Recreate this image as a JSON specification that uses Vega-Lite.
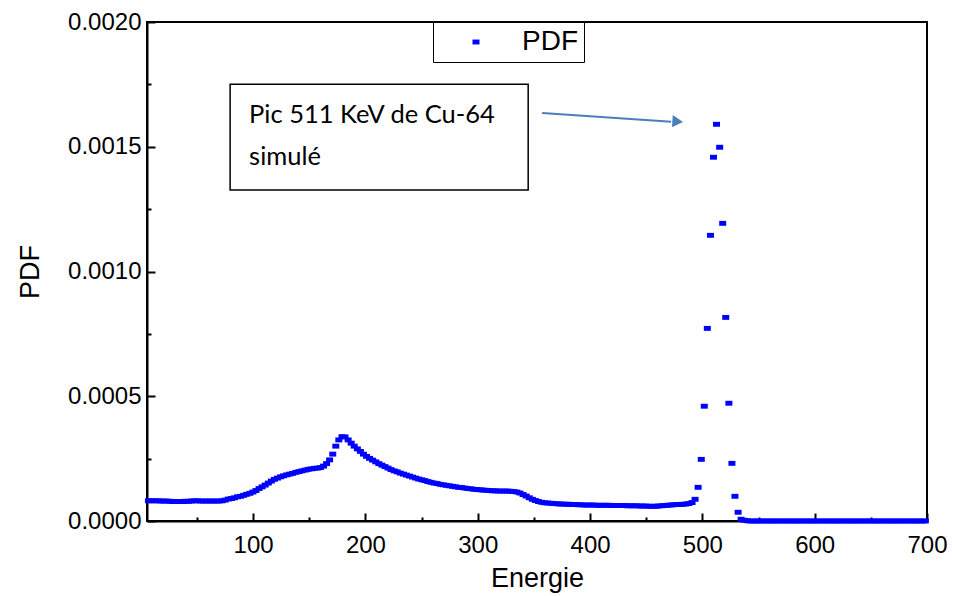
{
  "$schema": "https://vega.github.io/schema/vega-lite/v6.json",
  "width": 780,
  "height": 499,
  "autosize": {"type": "none"},
  "padding": {"left": 147, "top": 22, "right": 27, "bottom": 75},
  "background": "white",
  "config": {"view": {"stroke": "black", "strokeWidth": 2}, "font": "Liberation Sans"},
  "layer": [
    {
      "data": {"values": [
        {"E":6.8,"P":0.000081},{"E":9.6,"P":0.000081},{"E":12.3,"P":0.000081},{"E":15.0,"P":0.000081},{"E":17.8,"P":0.000080},
        {"E":20.5,"P":0.000080},{"E":23.2,"P":0.000080},{"E":26.0,"P":0.000079},{"E":28.7,"P":0.000078},{"E":31.4,"P":0.000078},
        {"E":34.2,"P":0.000078},{"E":36.9,"P":0.000078},{"E":39.6,"P":0.000079},{"E":42.4,"P":0.000079},{"E":45.1,"P":0.000080},
        {"E":47.8,"P":0.000081},{"E":50.6,"P":0.000081},{"E":53.3,"P":0.000080},{"E":56.0,"P":0.000080},{"E":58.8,"P":0.000080},
        {"E":61.5,"P":0.000080},{"E":64.2,"P":0.000080},{"E":67.0,"P":0.000080},{"E":69.7,"P":0.000080},{"E":72.5,"P":0.000081},
        {"E":75.2,"P":0.000084},{"E":77.9,"P":0.000088},{"E":80.7,"P":0.000090},{"E":83.4,"P":0.000093},{"E":86.1,"P":0.000097},
        {"E":88.9,"P":0.000099},{"E":91.6,"P":0.000103},{"E":94.3,"P":0.000107},{"E":97.1,"P":0.000111},{"E":99.8,"P":0.000116},
        {"E":102.5,"P":0.000122},{"E":105.3,"P":0.000130},{"E":108.0,"P":0.000137},{"E":110.7,"P":0.000144},{"E":113.5,"P":0.000152},
        {"E":116.2,"P":0.000160},{"E":118.9,"P":0.000167},{"E":121.7,"P":0.000172},{"E":124.4,"P":0.000177},{"E":127.1,"P":0.000181},
        {"E":129.9,"P":0.000185},{"E":132.6,"P":0.000188},{"E":135.3,"P":0.000191},{"E":138.1,"P":0.000195},{"E":140.8,"P":0.000198},
        {"E":143.5,"P":0.000201},{"E":146.3,"P":0.000204},{"E":149.0,"P":0.000207},{"E":151.7,"P":0.000209},{"E":154.5,"P":0.000211},
        {"E":157.2,"P":0.000212},{"E":159.9,"P":0.000214},{"E":162.7,"P":0.000220},{"E":165.4,"P":0.000230},{"E":168.1,"P":0.000245},
        {"E":170.9,"P":0.000268},{"E":173.6,"P":0.000300},{"E":176.3,"P":0.000325},{"E":179.1,"P":0.000338},{"E":181.8,"P":0.000337},
        {"E":184.6,"P":0.000325},{"E":187.3,"P":0.000312},{"E":190.0,"P":0.000300},{"E":192.8,"P":0.000289},{"E":195.5,"P":0.000279},
        {"E":198.2,"P":0.000268},{"E":201.0,"P":0.000259},{"E":203.7,"P":0.000251},{"E":206.4,"P":0.000244},{"E":209.2,"P":0.000237},
        {"E":211.9,"P":0.000230},{"E":214.6,"P":0.000224},{"E":217.4,"P":0.000218},{"E":220.1,"P":0.000212},{"E":222.8,"P":0.000206},
        {"E":225.6,"P":0.000201},{"E":228.3,"P":0.000197},{"E":231.0,"P":0.000192},{"E":233.8,"P":0.000188},{"E":236.5,"P":0.000184},
        {"E":239.2,"P":0.000180},{"E":242.0,"P":0.000176},{"E":244.7,"P":0.000172},{"E":247.4,"P":0.000168},{"E":250.2,"P":0.000165},
        {"E":252.9,"P":0.000162},{"E":255.6,"P":0.000158},{"E":258.4,"P":0.000155},{"E":261.1,"P":0.000152},{"E":263.8,"P":0.000150},
        {"E":266.6,"P":0.000147},{"E":269.3,"P":0.000145},{"E":272.0,"P":0.000143},{"E":274.8,"P":0.000141},{"E":277.5,"P":0.000139},
        {"E":280.2,"P":0.000137},{"E":283.0,"P":0.000135},{"E":285.7,"P":0.000134},{"E":288.4,"P":0.000132},{"E":291.2,"P":0.000130},
        {"E":293.9,"P":0.000129},{"E":296.6,"P":0.000127},{"E":299.4,"P":0.000126},{"E":302.1,"P":0.000125},{"E":304.8,"P":0.000124},
        {"E":307.6,"P":0.000123},{"E":310.3,"P":0.000122},{"E":313.0,"P":0.000121},{"E":315.8,"P":0.000121},{"E":318.5,"P":0.000120},
        {"E":321.2,"P":0.000120},{"E":324.0,"P":0.000120},{"E":326.7,"P":0.000120},{"E":329.4,"P":0.000119},{"E":332.2,"P":0.000118},
        {"E":334.9,"P":0.000116},{"E":337.6,"P":0.000112},{"E":340.4,"P":0.000106},{"E":343.1,"P":0.000100},{"E":345.9,"P":0.000093},
        {"E":348.6,"P":0.000087},{"E":351.3,"P":0.000082},{"E":354.1,"P":0.000078},{"E":356.8,"P":0.000075},{"E":359.5,"P":0.000073},
        {"E":362.3,"P":0.000072},{"E":365.0,"P":0.000071},{"E":367.7,"P":0.000070},{"E":370.5,"P":0.000069},{"E":373.2,"P":0.000068},
        {"E":375.9,"P":0.000068},{"E":378.7,"P":0.000067},{"E":381.4,"P":0.000067},{"E":384.1,"P":0.000066},{"E":386.9,"P":0.000066},
        {"E":389.6,"P":0.000065},{"E":392.3,"P":0.000065},{"E":395.1,"P":0.000064},{"E":397.8,"P":0.000064},{"E":400.5,"P":0.000064},
        {"E":403.3,"P":0.000064},{"E":406.0,"P":0.000063},{"E":408.7,"P":0.000063},{"E":411.5,"P":0.000063},{"E":414.2,"P":0.000063},
        {"E":416.9,"P":0.000063},{"E":419.7,"P":0.000062},{"E":422.4,"P":0.000062},{"E":425.1,"P":0.000062},{"E":427.9,"P":0.000062},
        {"E":430.6,"P":0.000062},{"E":433.3,"P":0.000061},{"E":436.1,"P":0.000061},{"E":438.8,"P":0.000061},{"E":441.5,"P":0.000061},
        {"E":444.3,"P":0.000060},{"E":447.0,"P":0.000060},{"E":449.7,"P":0.000060},{"E":452.5,"P":0.000059},{"E":455.2,"P":0.000059},
        {"E":458.0,"P":0.000059},{"E":460.7,"P":0.000060},{"E":463.4,"P":0.000061},{"E":466.2,"P":0.000062},{"E":468.9,"P":0.000063},
        {"E":471.6,"P":0.000064},{"E":474.4,"P":0.000065},{"E":477.1,"P":0.000066},{"E":479.8,"P":0.000066},{"E":482.6,"P":0.000067},
        {"E":485.3,"P":0.000068},{"E":488.0,"P":0.000070},{"E":490.8,"P":0.000074},{"E":493.5,"P":0.000087},{"E":496.2,"P":0.000135},
        {"E":499.0,"P":0.000247},{"E":501.7,"P":0.000460},{"E":504.4,"P":0.000772},{"E":507.2,"P":0.001145},{"E":509.9,"P":0.001458},
        {"E":512.6,"P":0.001590},{"E":515.4,"P":0.001498},{"E":518.1,"P":0.001193},{"E":520.8,"P":0.000816},{"E":523.6,"P":0.000472},
        {"E":526.3,"P":0.000231},{"E":529.0,"P":0.000099},{"E":531.8,"P":0.000035},{"E":534.5,"P":0.000007},{"E":537.2,"P":0.000003},
        {"E":540.0,"P":0.000001},{"E":542.7,"P":0},{"E":545.4,"P":0},{"E":548.2,"P":0},{"E":550.9,"P":0},
        {"E":553.6,"P":0},{"E":556.4,"P":0},{"E":559.1,"P":0},{"E":561.8,"P":0},{"E":564.6,"P":0},
        {"E":567.3,"P":0},{"E":570.0,"P":0},{"E":572.8,"P":0},{"E":575.5,"P":0},{"E":578.2,"P":0},
        {"E":581.0,"P":0},{"E":583.7,"P":0},{"E":586.4,"P":0},{"E":589.2,"P":0},{"E":591.9,"P":0},
        {"E":594.7,"P":0},{"E":597.4,"P":0},{"E":600.1,"P":0},{"E":602.9,"P":0},{"E":605.6,"P":0},
        {"E":608.3,"P":0},{"E":611.1,"P":0},{"E":613.8,"P":0},{"E":616.5,"P":0},{"E":619.3,"P":0},
        {"E":622.0,"P":0},{"E":624.7,"P":0},{"E":627.5,"P":0},{"E":630.2,"P":0},{"E":632.9,"P":0},
        {"E":635.7,"P":0},{"E":638.4,"P":0},{"E":641.1,"P":0},{"E":643.9,"P":0},{"E":646.6,"P":0},
        {"E":649.3,"P":0},{"E":652.1,"P":0},{"E":654.8,"P":0},{"E":657.5,"P":0},{"E":660.3,"P":0},
        {"E":663.0,"P":0},{"E":665.7,"P":0},{"E":668.5,"P":0},{"E":671.2,"P":0},{"E":673.9,"P":0},
        {"E":676.7,"P":0},{"E":679.4,"P":0},{"E":682.1,"P":0},{"E":684.9,"P":0},{"E":687.6,"P":0},
        {"E":690.3,"P":0},{"E":693.1,"P":0},{"E":695.8,"P":0},{"E":698.5,"P":0}
      ]},
      "mark": {"type": "point", "shape": "M-1,-0.7H1V0.7H-1Z", "filled": true, "size": 49, "opacity": 1, "clip": false},
      "encoding": {
        "x": {
          "field": "E", "type": "quantitative", "title": "Energie",
          "scale": {"domain": [5.5, 700], "nice": false, "zero": false},
          "axis": {
            "values": [50,100,150,200,250,300,350,400,450,500,550,600,650,700],
            "labelExpr": "datum.value % 100 === 0 ? datum.label : ''",
            "tickSize": {"condition": {"test": "datum.value % 100 === 0", "value": -8}, "value": -4},
            "tickColor": "black", "tickWidth": 2, "domainColor": "black", "domainWidth": 2,
            "labelFontSize": 24, "labelColor": "black", "labelPadding": 20, "labelFlush": false,
            "titleFontSize": 27, "titleFontWeight": "normal", "titleColor": "black",
            "titleY": 57, "titleBaseline": "middle", "grid": false
          }
        },
        "y": {
          "field": "P", "type": "quantitative", "title": "PDF",
          "scale": {"domain": [0, 0.002], "nice": false},
          "axis": {
            "values": [0,0.00025,0.0005,0.00075,0.001,0.00125,0.0015,0.00175,0.002],
            "labelExpr": "round(datum.value*4000) % 2 === 0 ? format(datum.value, '.4f') : ''",
            "tickSize": {"condition": {"test": "round(datum.value*4000) % 2 === 0", "value": -8}, "value": -4},
            "tickColor": "black", "tickWidth": 2, "domainColor": "black", "domainWidth": 2,
            "labelFontSize": 24, "labelColor": "black", "labelPadding": 14, "labelFlush": false,
            "titleFontSize": 27, "titleFontWeight": "normal", "titleColor": "black",
            "titleX": -117, "titleY": 249.5, "titleAngle": -90, "titleAlign": "center", "titleBaseline": "middle", "grid": false
          }
        },
        "color": {
          "datum": "PDF",
          "scale": {"range": ["#0000ff"]},
          "legend": {
            "title": null, "orient": "none", "legendX": 286, "legendY": 0,
            "strokeColor": "black", "fillColor": "white", "padding": 6,
            "labelFontSize": 28, "labelFont": "Liberation Sans", "labelColor": "black",
            "symbolType": "M-1,-0.7H1V0.7H-1Z", "symbolSize": 49, "symbolOffset": 23, "labelOffset": 32,
            "symbolStrokeWidth": 0, "symbolFillColor": "#0000ff"
          }
        }
      }
    },
    {
      "data": {"values": [{"E": 79.5, "E2": 344.9, "P": 0.001327, "P2": 0.001751}]},
      "mark": {"type": "rect", "fill": "white", "stroke": "black", "strokeWidth": 1.5},
      "encoding": {
        "x": {"field": "E", "type": "quantitative", "title": "Energie"},
        "x2": {"field": "E2"},
        "y": {"field": "P", "type": "quantitative", "title": "PDF"},
        "y2": {"field": "P2"}
      }
    },
    {
      "data": {"values": [
        {"E": 96.4, "P": 0.001627, "t": "Pic 511 KeV de Cu-64"},
        {"E": 96.4, "P": 0.001459, "t": "simulé"}
      ]},
      "mark": {"type": "text", "align": "left", "baseline": "middle", "font": "Lato", "fontSize": 25.5, "color": "black"},
      "encoding": {
        "x": {"field": "E", "type": "quantitative", "title": "Energie"},
        "y": {"field": "P", "type": "quantitative", "title": "PDF"},
        "text": {"field": "t"}
      }
    },
    {
      "data": {"values": [{"E": 357.3, "P": 0.001635, "E2": 472.2, "P2": 0.0016}]},
      "mark": {"type": "rule", "color": "#4a7ebb", "strokeWidth": 2},
      "encoding": {
        "x": {"field": "E", "type": "quantitative", "title": "Energie"},
        "x2": {"field": "E2"},
        "y": {"field": "P", "type": "quantitative", "title": "PDF"},
        "y2": {"field": "P2"}
      }
    },
    {
      "data": {"values": [{"E": 478, "P": 0.001601}]},
      "mark": {"type": "point", "shape": "triangle-right", "filled": true, "size": 150, "angle": 4, "color": "#4a7ebb", "opacity": 1},
      "encoding": {
        "x": {"field": "E", "type": "quantitative", "title": "Energie"},
        "y": {"field": "P", "type": "quantitative", "title": "PDF"}
      }
    }
  ]
}
